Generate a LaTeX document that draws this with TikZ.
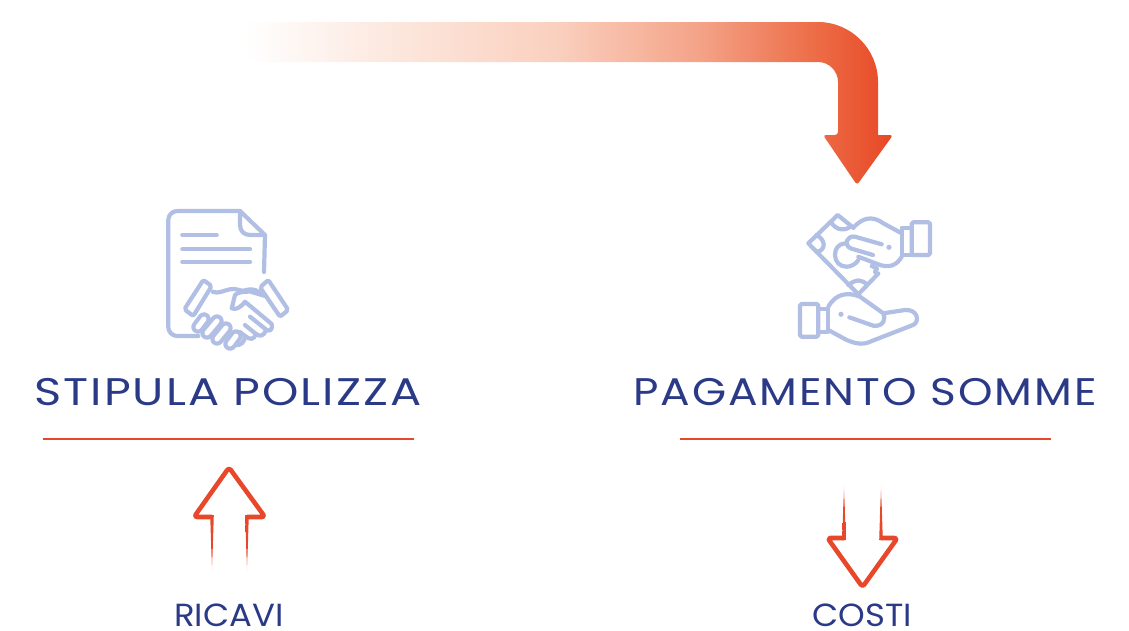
\documentclass[tikz,border=0pt]{standalone}
\usepackage{fontspec}
\setmainfont[LetterSpace=5,FakeStretch=1.14]{Poppins}
\newfontfamily\smallfont[FakeStretch=1.06]{Poppins}
\definecolor{navy}{HTML}{2B3A86}
\definecolor{redline}{HTML}{E8472A}
\definecolor{iconblue}{HTML}{B2BFE4}
\definecolor{gradA}{HTML}{FCE6DC}
\definecolor{gradB}{HTML}{FAD0BF}
\definecolor{gradC}{HTML}{F4A388}
\definecolor{gradD}{HTML}{EC6A44}
\definecolor{gradE}{HTML}{E84725}
\pgfdeclarehorizontalshading{arrowgrad}{100bp}{color(0bp)=(white); color(25bp)=(white); color(37bp)=(gradA); color(49bp)=(gradB); color(60bp)=(gradC); color(69.4bp)=(gradD); color(75bp)=(gradE); color(100bp)=(gradE)}
\pgfdeclareverticalshading{fadedown}{100bp}{color(0bp)=(white); color(25bp)=(white); color(44bp)=(redline); color(100bp)=(redline)}
\pgfdeclareverticalshading{fadeup}{100bp}{color(0bp)=(redline); color(56bp)=(redline); color(75bp)=(white); color(100bp)=(white)}
\tikzset{
  icon/.style={draw=iconblue,line width=4.2,line cap=round,line join=round},
  finger/.style={icon,double=white,double distance=5},
  title/.style={text=navy,anchor=base,font=\fontsize{38.5}{38.5}\selectfont,inner sep=0},
  sub/.style={text=navy,anchor=base,font=\smallfont\fontsize{32}{32}\selectfont,inner sep=0},
  rule/.style={draw=redline,line width=1.6},
  outlinearrow/.style={draw=redline,line width=4.6,line join=round,rounded corners=3},
}
\begin{document}
\begin{tikzpicture}[x=1pt,y=-1pt]
\useasboundingbox (0,0) rectangle (1129,630);
% big gradient arrow
\shade[shading=arrowgrad] (245,22) -- (818,22) .. controls (851,22) and (878,49) .. (878,82) -- (878,135)
  [rounded corners=3] -- (893,135) -- (857,185) -- (823,135) -- (838,135) [sharp corners] -- (838,82)
  .. controls (838,71) and (829,62) .. (818,62) -- (245,62) -- cycle;
% document + handshake icon
\draw[icon,rounded corners=9] (198.3,336) -- (168.3,336) -- (168.3,211) -- (240,211);
\draw[icon] (240,211) -- (265,235) -- (264,272);
\draw[icon] (240,211) -- (240,225) .. controls (240,231) and (244,235) .. (250,235) -- (265,235);
\draw[icon] (182.3,235) -- (216.7,235);
\draw[icon] (182.3,249.3) -- (250,249.3);
\draw[icon] (182.3,261.7) -- (250,261.7);
\draw[icon,rounded corners=2,fill=white] (203.3,280) -- (211.7,286) -- (193.3,316) -- (184.3,309.3) -- cycle;
\draw[icon,rounded corners=2,fill=white] (268.3,280) -- (260,287.3) -- (280,316.7) -- (288.3,310) -- cycle;
\draw[icon] (212.7,291.7) .. controls (218,294) and (222,291) .. (230,289.3) .. controls (236,288) and (240,291) .. (243.3,290.7) .. controls (250,289) and (254,288) .. (260,293);
\draw[icon] (265,296) -- (250,291.5) .. controls (242,292) and (238,292) .. (235,295) -- (231.7,308.3) .. controls (236,310) and (240,308) .. (245,301.7) -- (271.7,324) .. controls (273,329) and (270,332) .. (266.7,330) -- (250,316.7);
\draw[icon] (266,330) .. controls (264,336) and (260,337) .. (256,334) -- (245,325);
\draw[icon] (256,334) .. controls (254,340) and (250,340) .. (245,336) -- (240,332);
\draw[finger] (204,319) -- (198,327);
\draw[finger] (217,321) -- (207,333);
\draw[finger] (226,328) -- (217,339);
\draw[finger] (236,336) -- (230,344);
\draw[icon] (245,336) .. controls (245,342) and (240,346) .. (236,345);
% money + hands icon
\draw[icon] (853.3,227.7) -- (837.7,215) -- (808.3,243.3) -- (858.3,294.3) -- (878.3,273.5);
\draw[icon] (831,222) .. controls (836,231) and (846,231) .. (851,226);
\draw[icon] (816.5,235) .. controls (826,240) and (826,250) .. (817,252);
\draw[icon] (848.3,285) .. controls (856,279) and (862,279) .. (867,285);
\draw[icon] (871.7,266) -- (877,268.5) -- (875,272);
\draw[icon] (853.3,227.7) .. controls (862,218) and (872,215) .. (883.3,223.3) -- (901.7,233.3);
\draw[icon,rounded corners=1.5] (911.7,222.3) -- (930,222.3) -- (930,255) -- (911.7,255) -- cycle;
\draw[icon] (911.7,227.7) -- (901.7,227.7) -- (901.7,255) -- (911.7,255);
\draw[icon] (901.7,256.7) .. controls (897,265) and (890,268) .. (880,265) -- (858.3,256.7);
\draw[icon] (881.7,244.3) -- (855,236.7) .. controls (847,235) and (843,245) .. (851,248.5) -- (873,255);
\draw[icon] (845,243.3) .. controls (838,244) and (835,249) .. (835,255) .. controls (835,262) and (840,266.7) .. (846.7,266.7) .. controls (851,266.7) and (856,264) .. (858.3,260);
\fill[iconblue] (889,247.3) circle (2.6);
\draw[icon,rounded corners=1.5] (800,304) -- (818.3,304) -- (818.3,336.7) -- (800,336.7) -- cycle;
\draw[icon] (818.3,309) -- (828.3,309) -- (828.3,331.7) -- (818.3,331.7);
\draw[icon] (828.3,306.7) .. controls (836,293) and (848,292) .. (860,296.7) -- (883.3,313.3) -- (905,310) .. controls (918,309) and (920,322) .. (913,325) -- (866.7,343) .. controls (858,345) and (852,342) .. (846.7,340) -- (828.3,330);
\draw[icon] (849.3,317.3) -- (873.3,325.7) .. controls (884,327) and (886,318) .. (883.3,313.3);
\fill[iconblue] (841,314.3) circle (2.6);
% labels
\node[title] (stipula) at (228,405) {\scalebox{1.054}[1]{STIPULA POLIZZA}};
\node[title] (pagamento) at (865,405) {PAGAMENTO SOMME};
\coordinate (r1a) at (43,439); \coordinate (r1b) at (414,439);
\coordinate (r2a) at (680,439); \coordinate (r2b) at (1051,439);
\draw[rule] (r1a) -- (r1b);
\draw[rule] (r2a) -- (r2b);
% up arrow
\draw[outlinearrow] (212,517) -- (194,517) -- (229,467.5) -- (265,517) -- (247,517);
\shade[shading=fadedown] (210.2,515) -- (213.8,515) -- (212,573) -- cycle;
\shade[shading=fadedown] (245.2,515) -- (248.8,515) -- (247,573) -- cycle;
% down arrow
\draw[outlinearrow] (844,538) -- (827.5,538) -- (862.5,587) -- (897.5,538) -- (881,538);
\shade[shading=fadeup] (842.2,540) -- (845.8,540) -- (844,483) -- cycle;
\shade[shading=fadeup] (879.2,540) -- (882.8,540) -- (881,483) -- cycle;
\node[sub] (ricavi) at (229,626.5) {RICAVI};
\node[sub] (costi) at (862,626.5) {COSTI};
\end{tikzpicture}
\end{document}
